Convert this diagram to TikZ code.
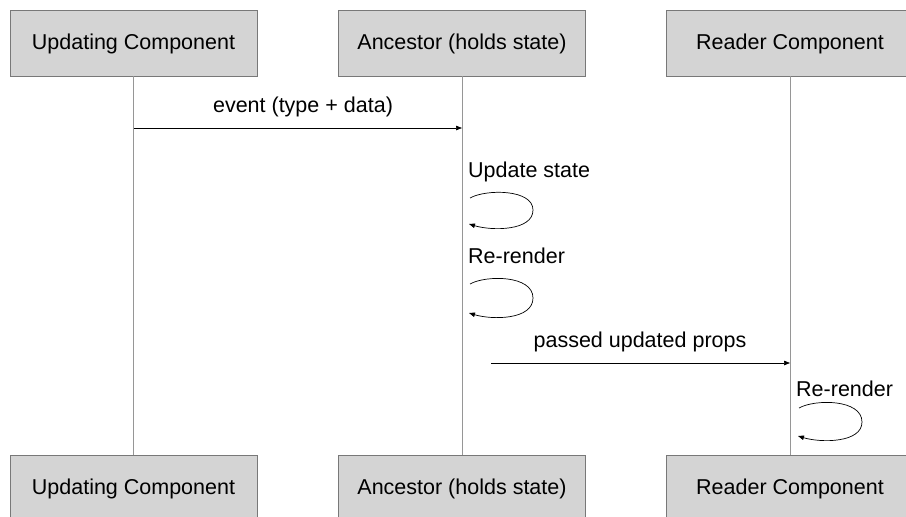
\documentclass[tikz,border=0pt]{standalone}
\usepackage{fontspec}
\setmainfont{Liberation Sans}
\usetikzlibrary{arrows.meta}
\definecolor{boxfill}{RGB}{212,212,212}
\definecolor{boxdraw}{RGB}{120,120,120}
\definecolor{lifecol}{RGB}{150,150,150}
\begin{document}
\begin{tikzpicture}[x=1pt,y=-1pt,
  actor/.style={draw=boxdraw,fill=boxfill,line width=0.9pt,minimum width=247pt,minimum height=66pt,inner sep=0pt,
    font=\fontsize{21.5}{26}\selectfont,text height=15.4pt,text depth=2.5pt},
  lifeline/.style={draw=lifecol,line width=1pt},
  msg/.style={draw=black,line width=0.7pt,-{Triangle[length=6pt,width=4.5pt]}},
  lbl/.style={font=\fontsize{21.5}{26}\selectfont,inner sep=0pt}]
\useasboundingbox[fill=white] (0,0) rectangle (906,517);
\node[actor] (u1) at (133.5,43) {Updating Component};
\node[actor] (a1) at (462,43) {Ancestor (holds state)};
\node[actor] (r1) at (790,43) {Reader Component};
\node[actor] (u2) at (133.5,488) {Updating Component};
\node[actor] (a2) at (462,488) {Ancestor (holds state)};
\node[actor] (r2) at (790,488) {Reader Component};
\draw[lifeline] (u1.south) -- (u2.north);
\draw[lifeline] (a1.south) -- (a2.north);
\draw[lifeline] (r1.south) -- (r2.north);
% message 1
\coordinate (m1s) at (134,128);
\coordinate (m1e) at (462,128);
\draw[msg] (m1s) -- (m1e);
\node[lbl,anchor=base] (l1) at (303,112) {event (type + data)};
% self loop 1
\node[lbl,anchor=base west] (l2) at (468,177) {Update state};
\coordinate (s1a) at (470,198);
\coordinate (s1r) at (533,210);
\coordinate (s1b) at (469,224);
\draw[msg] (s1a) .. controls (486,189) and (533,189) .. (s1r) .. controls (533,231) and (492,231) .. (s1b);
% self loop 2
\node[lbl,anchor=base west] (l3) at (468,263) {Re-render};
\coordinate (s2a) at (470,284);
\coordinate (s2r) at (533,298);
\coordinate (s2b) at (469,313);
\draw[msg] (s2a) .. controls (486,275) and (533,275) .. (s2r) .. controls (533,320) and (492,320) .. (s2b);
% message 2
\coordinate (m2s) at (491,363);
\coordinate (m2e) at (790,363);
\draw[msg] (m2s) -- (m2e);
\node[lbl,anchor=base] (l4) at (640,347) {passed updated props};
% self loop 3
\node[lbl,anchor=base west] (l5) at (796,396) {Re-render};
\coordinate (s3a) at (799,408);
\coordinate (s3r) at (862,422);
\coordinate (s3b) at (798,436);
\draw[msg] (s3a) .. controls (815,399) and (862,399) .. (s3r) .. controls (862,443) and (821,443) .. (s3b);
\end{tikzpicture}
\end{document}
